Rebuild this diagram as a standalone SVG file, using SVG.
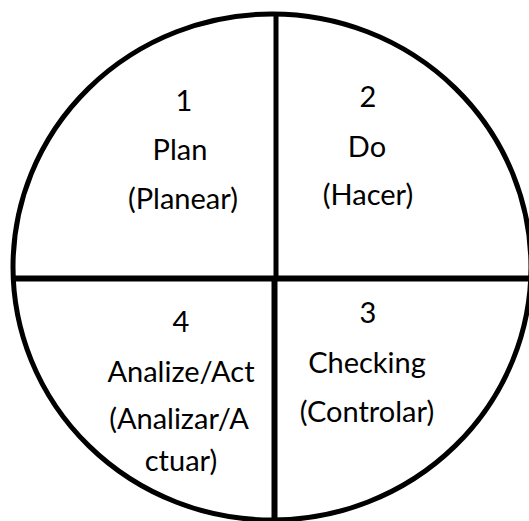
<svg xmlns="http://www.w3.org/2000/svg" width="529" height="521" viewBox="0 0 529 521">
<style>
.t{font-family:Lato,"Open Sans","Liberation Sans",sans-serif;font-size:29px;fill:#000;text-anchor:middle}
.ln{stroke:#000;fill:none}
</style>
<rect width="529" height="521" fill="#fff"/>
<g id="connectors">
<ellipse class="ln" cx="272" cy="267" rx="259" ry="253" stroke-width="5"/>
<line class="ln" x1="276" y1="14" x2="276" y2="279" stroke-width="5"/>
<line class="ln" x1="274.5" y1="279" x2="274.5" y2="521" stroke-width="6"/>
<line class="ln" x1="12" y1="278.5" x2="529" y2="278.5" stroke-width="6"/>
</g>
<g id="q1">
<text class="t" x="184" y="111">1</text>
<text class="t" x="180" y="160">Plan</text>
<text class="t" x="183" y="209">(Planear)</text>
</g>
<g id="q2">
<text class="t" x="368" y="107">2</text>
<text class="t" x="367" y="157">Do</text>
<text class="t" x="368" y="205">(Hacer)</text>
</g>
<g id="q3">
<text class="t" x="368" y="323">3</text>
<text class="t" x="367" y="373">Checking</text>
<text class="t" x="367" y="422">(Controlar)</text>
</g>
<g id="q4">
<text class="t" x="181" y="332">4</text>
<text class="t" x="181" y="382">Analize/Act</text>
<text class="t" x="179" y="429">(Analizar/A</text>
<text class="t" x="181" y="471">ctuar)</text>
</g>
</svg>
